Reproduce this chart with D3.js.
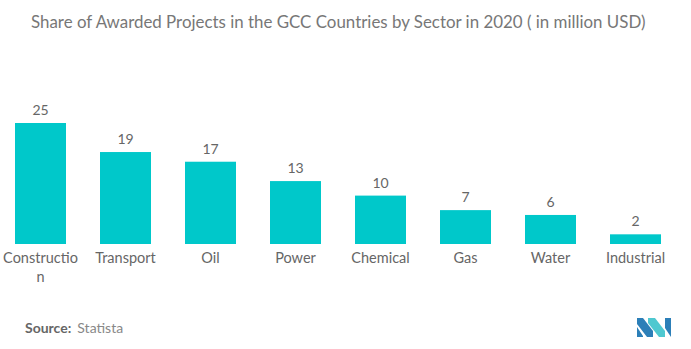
<!DOCTYPE html>
<html>
    <head>
        <style>
        html, body {
            margin: 0;
            padding: 0;
            background: #fff;
        }
        svg {
            display: block;
            font-family: Lato, "Open Sans", sans-serif;
        }
        </style>
    </head>
    <body>
        <svg width="691" height="349"></svg>

        <script src="https://cdnjs.cloudflare.com/ajax/libs/d3/7.8.5/d3.min.js"></script>
        <script>
            const sectors = ["Construction", "Transport", "Oil", "Power", "Chemical", "Gas", "Water", "Industrial"];
            const awarded = [25, 19, 17, 13, 10, 7, 6, 2];

            const width = 691;
            const height = 349;
            const baseline = 244;
            const barColor = "#00C8CA";
            const textColor = "#666";

            let svg = d3.select("svg");

            svg.append("text")
                .attr("x", 31)
                .attr("y", 28)
                .attr("fill", "#777")
                .style("font-size", "16.9px")
                .text("Share of Awarded Projects in the GCC Countries by Sector in 2020 ( in million USD)");

            let xScale = d3.scaleBand()
                .domain(sectors)
                .range([-2, 678])
                .paddingInner(0.4)
                .paddingOuter(0.2);

            let yScale = d3.scaleLinear()
                .domain([0, 25])
                .range([baseline, 123]);

            let data = sectors.map((s, i) => ({sector: s, value: awarded[i]}));

            svg.selectAll("rect")
                .data(data)
                .enter().append("rect")
                .attr("x", d => xScale(d.sector))
                .attr("y", d => yScale(d.value))
                .attr("width", xScale.bandwidth())
                .attr("height", d => baseline - yScale(d.value))
                .attr("fill", barColor);

            svg.selectAll(".value")
                .data(data)
                .enter().append("text")
                .attr("class", "value")
                .attr("x", d => xScale(d.sector) + xScale.bandwidth() / 2)
                .attr("y", d => yScale(d.value) - 8)
                .attr("text-anchor", "middle")
                .attr("fill", textColor)
                .style("font-size", "14px")
                .text(d => d.value);

            // x axis without a domain line, labels broken by character when too wide
            let xAxis = d3.axisBottom(xScale).tickSize(0).tickPadding(0);
            let axis = svg.append("g")
                .attr("transform", "translate(0," + baseline + ")")
                .call(xAxis);
            axis.select(".domain").remove();
            axis.selectAll("text")
                .attr("fill", textColor)
                .style("font-size", "14.5px")
                .style("font-family", "Lato, 'Open Sans', sans-serif")
                .attr("dy", null)
                .attr("y", 19)
                .each(function(d) {
                    let t = d3.select(this);
                    let maxW = 76;
                    if (this.getComputedTextLength() <= maxW) return;
                    let lines = [""];
                    t.text("");
                    let probe = t.append("tspan");
                    for (let ch of d) {
                        probe.text(lines[lines.length - 1] + ch);
                        if (probe.node().getComputedTextLength() > maxW) lines.push(ch);
                        else lines[lines.length - 1] += ch;
                    }
                    probe.remove();
                    lines.forEach((ln, i) => {
                        t.append("tspan")
                            .attr("x", 0)
                            .attr("dy", i === 0 ? 0 : 19)
                            .text(ln);
                    });
                });

            let source = svg.append("text")
                .attr("x", 25)
                .attr("y", 333)
                .style("font-size", "14px");
            source.append("tspan").attr("fill", "#666").style("font-weight", "bold").text("Source:");
            source.append("tspan").attr("fill", "#888").attr("dx", 6).text("Statista");

            // logo mark
            let logo = svg.append("g").attr("transform", "translate(637,318)");
            logo.append("polygon").attr("points", "0,0 6,0 16,13 16,19 10,19 0,6").attr("fill", "#2C7FB8");
            logo.append("polygon").attr("points", "0,9 6,18 6,19 0,19").attr("fill", "#2C7FB8");
            logo.append("polygon").attr("points", "11,0 18,0 28,13 28,19 22,19 11,5").attr("fill", "#4FC8D0");
            logo.append("polygon").attr("points", "28,0 34,0 34,19 28,10").attr("fill", "#2C7FB8");
        </script>
    </body>
</html>
